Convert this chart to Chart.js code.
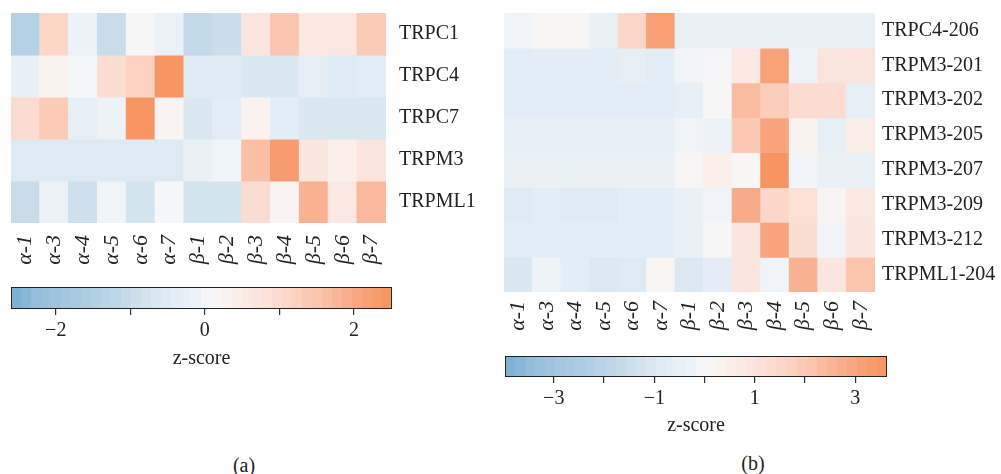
<!DOCTYPE html>
<html>
<head>
<meta charset="utf-8">
<script src="https://cdn.jsdelivr.net/npm/chart.js@4.4.1/dist/chart.umd.min.js"></script>
<style>
  body { margin: 0; background: #fff; width: 1001px; height: 474px; position: relative; overflow: hidden; }
  canvas { position: absolute; }
  .cap { position: absolute; font: 20px "Liberation Serif", "DejaVu Serif", serif; color: #222; transform: translate(-50%, -50%); }
</style>
</head>
<body>
<canvas id="heatA" width="500" height="280" style="left:0;top:0"></canvas>
<canvas id="barA" width="420" height="100" style="left:0;top:280px"></canvas>
<canvas id="heatB" width="511" height="345" style="left:490px;top:0"></canvas>
<canvas id="barB" width="420" height="100" style="left:490px;top:345px"></canvas>
<div class="cap" style="left:244px;top:465px">(a)</div>
<div class="cap" style="left:753px;top:463px">(b)</div>

<script>
const columns = ['α-1', 'α-3', 'α-4', 'α-5', 'α-6', 'α-7', 'β-1', 'β-2', 'β-3', 'β-4', 'β-5', 'β-6', 'β-7'];

// (a) genes
const genesA = ['TRPC1', 'TRPC4', 'TRPC7', 'TRPM3', 'TRPML1'];
const trpc1 = [-1.4, 1.1, -0.1, -1.0, 0.1, -0.15, -1.1, -0.95, 0.7, 1.45, 0.6, 0.6, 1.35];
const trpc4 = [-0.25, 0.3, 0.05, 0.9, 1.2, 2.45, -0.5, -0.5, -0.6, -0.6, -0.3, -0.5, -0.4];
const trpc7 = [0.95, 1.35, -0.3, -0.1, 2.45, 0.2, -0.6, -0.4, 0.3, -0.4, -0.6, -0.6, -0.6];
const trpm3 = [-0.55, -0.55, -0.55, -0.55, -0.55, -0.55, -0.2, -0.05, 1.6, 2.3, 0.65, 0.4, 0.7];
const trpml1 = [-1.0, -0.15, -0.9, -0.05, -0.75, 0.05, -0.75, -0.75, 0.95, 0.2, 1.85, 0.6, 1.7];
const rangeA = [-2.6, 2.51];

// (b) transcripts
const genesB = ['TRPC4-206', 'TRPM3-201', 'TRPM3-202', 'TRPM3-205', 'TRPM3-207', 'TRPM3-209', 'TRPM3-212', 'TRPML1-204'];
const trpc4_206 = [-0.17, 0.12, 0.12, -0.4, 1.54, 3.2, -0.4, -0.4, -0.4, -0.4, -0.4, -0.4, -0.4];
const trpm3_201 = [-0.7, -0.62, -0.7, -0.7, -0.55, -0.7, -0.17, 0.0, 0.8, 3.1, -0.25, 1.0, 1.0];
const trpm3_202 = [-0.7, -0.7, -0.7, -0.7, -0.7, -0.7, -0.55, 0.05, 2.35, 1.83, 1.3, 1.3, -0.55];
const trpm3_205 = [-0.55, -0.55, -0.55, -0.55, -0.55, -0.55, -0.17, -0.32, 1.98, 3.0, 0.35, -0.55, 0.57];
const trpm3_207 = [-0.4, -0.4, -0.4, -0.4, -0.4, -0.4, 0.08, 0.5, 0.12, 3.55, -0.17, -0.4, -0.4];
const trpm3_209 = [-0.85, -0.68, -0.85, -0.85, -0.7, -0.7, -0.4, -0.17, 2.8, 1.54, 1.16, 0.15, 0.8];
const trpm3_212 = [-0.7, -0.7, -0.7, -0.7, -0.7, -0.7, -0.4, 0.05, 0.94, 3.0, 1.24, -0.17, 0.94];
const trpml1_204 = [-1.0, -0.25, -0.7, -0.95, -0.85, 0.1, -0.95, -0.6, 0.94, -0.17, 2.58, 0.94, 2.13];
const rangeB = [-3.97, 3.63];

const serif = '"Liberation Serif", "DejaVu Serif", serif';
const ink = '#222';

// blue - white - orange ramp
const ramp = [
  [0, '#76afd3'], [0.076, '#97bfdb'], [0.18, '#a8cbe0'], [0.254, '#b8d4e6'],
  [0.339, '#cfe0ec'], [0.417, '#e0ecf5'], [0.495, '#eef3f8'], [0.517, '#f6f7f9'],
  [0.575, '#fbf1ed'], [0.653, '#fbe4dc'], [0.732, '#fcd5c6'], [0.81, '#fbc2aa'],
  [0.89, '#f8ab88'], [1, '#f7935e']
];

const hex = h => [1, 3, 5].map(i => parseInt(h.slice(i, i + 2), 16));

function cmap(t) {
  t = Math.min(1, Math.max(0, t));
  for (let i = 1; i < ramp.length; i++) {
    if (t <= ramp[i][0]) {
      const [t0, c0] = ramp[i - 1];
      const [t1, c1] = ramp[i];
      const f = (t - t0) / (t1 - t0);
      const a = hex(c0), b = hex(c1);
      return 'rgb(' + a.map((v, k) => Math.round(v + (b[k] - v) * f)).join(',') + ')';
    }
  }
  return ramp[ramp.length - 1][1];
}

const zColor = (v, range) => cmap((v - range[0]) / (range[1] - range[0]));

function heatmap(id, rows, values, range, lay) {
  new Chart(document.getElementById(id), {
    type: 'bar',
    data: {
      labels: columns,
      datasets: rows.map((r, i) => ({
        label: r,
        data: columns.map(() => [i, i + 1]),
        backgroundColor: values[i].map(v => zColor(v, range)),
        borderWidth: 0,
        inflateAmount: 0.6,
        barPercentage: 1,
        categoryPercentage: 1,
        grouped: false
      }))
    },
    options: {
      responsive: false,
      animation: false,
      layout: { padding: { left: lay.left, top: lay.top } },
      plugins: { legend: { display: false }, tooltip: { enabled: false } },
      scales: {
        x: {
          grid: { display: false, drawTicks: false },
          border: { display: false },
          ticks: {
            autoSkip: false, minRotation: 90, maxRotation: 90, padding: lay.xPad,
            color: ink, font: { family: serif, size: 22, style: 'italic' }
          },
          afterFit: s => { s.height = lay.xH; s.paddingLeft = 0; s.paddingRight = 0; }
        },
        y: {
          position: 'right',
          reverse: true,
          min: 0,
          max: rows.length,
          grid: { display: false, drawTicks: false },
          border: { display: false },
          afterBuildTicks: s => { s.ticks = rows.map((_, i) => ({ value: i + 0.5 })); },
          ticks: {
            padding: lay.yPad, color: ink, font: { family: serif, size: 20 },
            callback: (v, i) => rows[i]
          },
          afterFit: s => { s.width = lay.yW; s.paddingTop = 0; s.paddingBottom = 0; }
        }
      }
    }
  });
}

function stepGradient(chart) {
  const area = chart.chartArea;
  if (!area) return '#ccc';
  const g = chart.ctx.createLinearGradient(area.left, 0, area.right, 0);
  const n = 38;
  for (let k = 0; k < n; k++) {
    const c = cmap((k + 0.5) / n);
    g.addColorStop(k / n, c);
    g.addColorStop((k + 1) / n, c);
  }
  return g;
}

const fmt = v => (v < 0 ? '\u2212' + Math.abs(v) : String(v));

function colorbar(id, range, showLabel, lay) {
  new Chart(document.getElementById(id), {
    type: 'bar',
    data: {
      labels: ['z-score'],
      datasets: [{
        data: [[range[0], range[1]]],
        backgroundColor: ctx => stepGradient(ctx.chart),
        borderColor: ink,
        borderWidth: 1.3,
        borderSkipped: false,
        barPercentage: 1,
        categoryPercentage: 1
      }]
    },
    options: {
      indexAxis: 'y',
      responsive: false,
      animation: false,
      layout: { padding: { left: lay.left, top: lay.top, right: lay.right, bottom: lay.bottom } },
      plugins: { legend: { display: false }, tooltip: { enabled: false } },
      scales: {
        y: { display: false },
        x: {
          min: range[0],
          max: range[1],
          grid: { drawOnChartArea: false, drawTicks: true, tickLength: 6, color: '#333', lineWidth: 1.2 },
          border: { display: false },
          ticks: {
            stepSize: 1, includeBounds: false, padding: 4, color: ink,
            font: { family: serif, size: 20 },
            callback: v => (showLabel(v) ? fmt(v) : '')
          },
          title: {
            display: true, text: 'z-score', color: ink,
            font: { family: serif, size: 20 }, padding: { top: 0, bottom: 0 }
          },
          afterFit: s => { s.height = lay.xH; s.paddingLeft = 0; s.paddingRight = 0; }
        }
      }
    }
  });
}

heatmap('heatA', genesA, [trpc1, trpc4, trpc7, trpm3, trpml1], rangeA,
  { left: 11, top: 13, xH: 57, yW: 114, xPad: 12, yPad: 13 });
heatmap('heatB', genesB, [trpc4_206, trpm3_201, trpm3_202, trpm3_205, trpm3_207, trpm3_209, trpm3_212, trpml1_204], rangeB,
  { left: 14, top: 13, xH: 53, yW: 126, xPad: 9, yPad: 7 });

colorbar('barA', rangeA, v => Math.abs(v) % 2 === 0, { left: 11, top: 7, right: 28, bottom: 9, xH: 62 });
colorbar('barB', rangeB, v => Math.abs(v) % 2 === 1, { left: 15, top: 11, right: 23, bottom: 7, xH: 61 });
</script>
</body>
</html>
